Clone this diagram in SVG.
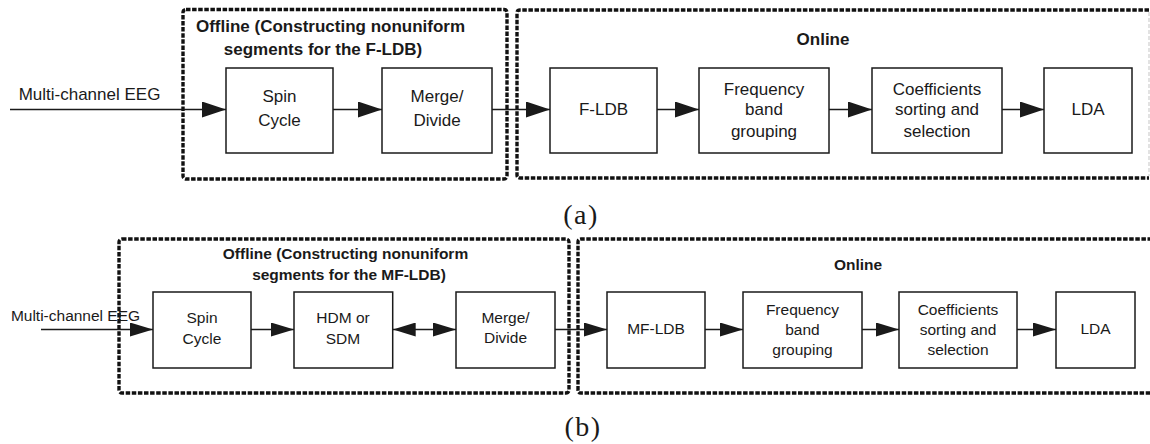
<svg xmlns="http://www.w3.org/2000/svg" width="1150" height="444" viewBox="0 0 1150 444">
  <style>
    .box { fill: #fff; stroke: #1a1a1a; stroke-width: 1.5; }
    .frame { fill: none; stroke: #111; stroke-width: 3.4; stroke-dasharray: 4.5 1.6; stroke-linejoin: round; }
    .frame-faint { fill: none; stroke: #cfcfcf; stroke-width: 1.2; stroke-dasharray: 4 2; }
    .wire { fill: none; stroke: #1a1a1a; stroke-width: 1.5; }
    .t { font-family: "Liberation Sans", Arial, sans-serif; fill: #1a1a1a; text-anchor: middle; }
    .ta { font-size: 17px; }
    .tb { font-size: 15.5px; }
    .bold { font-weight: bold; }
    .cap { font-family: "Liberation Serif", "Times New Roman", serif; font-size: 28px; fill: #1a1a1a; text-anchor: middle; letter-spacing: 1.5px; }
  </style>
  <defs>
    <marker id="headA" markerUnits="userSpaceOnUse" markerWidth="26" markerHeight="18" refX="24" refY="8" orient="auto">
      <path d="M0,0 L24,8 L0,16 Z" fill="#1a1a1a"/>
    </marker>
    <marker id="headB" markerUnits="userSpaceOnUse" markerWidth="25" markerHeight="16" refX="23" refY="7" orient="auto">
      <path d="M0,0 L23,7 L0,14 Z" fill="#1a1a1a"/>
    </marker>
    <marker id="headBstart" markerUnits="userSpaceOnUse" markerWidth="25" markerHeight="16" refX="0" refY="7" orient="auto">
      <path d="M23,0 L0,7 L23,14 Z" fill="#1a1a1a"/>
    </marker>
  </defs>

  <!-- (a) stage frames -->
  <g id="a-offline-frame">
    <rect class="frame" x="183" y="9.5" width="324" height="169.5" rx="3"/>
    <text class="t ta bold" x="330.5" y="32">Offline (Constructing nonuniform</text>
    <text class="t ta bold" x="323" y="55">segments for the F-LDB)</text>
  </g>
  <g id="a-online-frame">
    <path class="frame" d="M1149,10 L520,10 Q517,10 517,13 L517,175 Q517,178 520,178 L1149,178"/>
    <line class="frame-faint" x1="1149" y1="12" x2="1149" y2="176"/>
    <text class="t ta bold" x="823" y="45">Online</text>
  </g>

  <!-- (a) input label -->
  <text id="a-input" class="t ta" x="89.5" y="100">Multi-channel EEG</text>

  <!-- (a) nodes -->
  <g id="a-spin">
    <rect class="box" x="226" y="68" width="107" height="85"/>
    <text class="t ta" x="279.5" y="102">Spin</text>
    <text class="t ta" x="279.5" y="126">Cycle</text>
  </g>
  <g id="a-merge">
    <rect class="box" x="382" y="68" width="110" height="85"/>
    <text class="t ta" x="437" y="102">Merge/</text>
    <text class="t ta" x="437" y="126">Divide</text>
  </g>
  <g id="a-fldb">
    <rect class="box" x="550" y="68" width="107" height="85"/>
    <text class="t ta" x="603.5" y="115">F-LDB</text>
  </g>
  <g id="a-freq">
    <rect class="box" x="699" y="68" width="130" height="85"/>
    <text class="t ta" x="764" y="95">Frequency</text>
    <text class="t ta" x="764" y="115">band</text>
    <text class="t ta" x="764" y="137">grouping</text>
  </g>
  <g id="a-coef">
    <rect class="box" x="872" y="68" width="130" height="85"/>
    <text class="t ta" x="937" y="95">Coefficients</text>
    <text class="t ta" x="937" y="115">sorting and</text>
    <text class="t ta" x="937" y="137">selection</text>
  </g>
  <g id="a-lda">
    <rect class="box" x="1044" y="68" width="88" height="85"/>
    <text class="t ta" x="1088" y="115">LDA</text>
  </g>

  <!-- (a) connectors -->
  <g id="a-connectors">
    <line class="wire" x1="10" y1="109.5" x2="226" y2="109.5" marker-end="url(#headA)"/>
    <line class="wire" x1="333" y1="109.5" x2="382" y2="109.5" marker-end="url(#headA)"/>
    <line class="wire" x1="492" y1="109.5" x2="550" y2="109.5" marker-end="url(#headA)"/>
    <line class="wire" x1="657" y1="109.5" x2="699" y2="109.5" marker-end="url(#headA)"/>
    <line class="wire" x1="829" y1="109.5" x2="872" y2="109.5" marker-end="url(#headA)"/>
    <line class="wire" x1="1002" y1="109.5" x2="1044" y2="109.5" marker-end="url(#headA)"/>
  </g>

  <text id="cap-a" class="cap" x="581" y="224">(a)</text>

  <!-- (b) stage frames -->
  <g id="b-offline-frame">
    <rect class="frame" x="119" y="239" width="450" height="154" rx="3"/>
    <text class="t tb bold" x="345.5" y="259">Offline (Constructing nonuniform</text>
    <text class="t tb bold" x="349" y="280">segments for the MF-LDB)</text>
  </g>
  <g id="b-online-frame">
    <path class="frame" d="M1152,239 L581,239 Q578,239 578,242 L578,390 Q578,393 581,393 L1152,393"/>
    <text class="t tb bold" x="858" y="270">Online</text>
  </g>

  <!-- (b) input label -->
  <text id="b-input" class="t tb" x="75.5" y="321">Multi-channel EEG</text>

  <!-- (b) nodes -->
  <g id="b-spin">
    <rect class="box" x="153" y="292" width="98" height="76"/>
    <text class="t tb" x="202" y="323">Spin</text>
    <text class="t tb" x="202" y="344">Cycle</text>
  </g>
  <g id="b-hdm">
    <rect class="box" x="294" y="292" width="98.7" height="76"/>
    <text class="t tb" x="343" y="323">HDM or</text>
    <text class="t tb" x="343" y="344">SDM</text>
  </g>
  <g id="b-merge">
    <rect class="box" x="456" y="292" width="99" height="76"/>
    <text class="t tb" x="505.5" y="323">Merge/</text>
    <text class="t tb" x="505.5" y="343">Divide</text>
  </g>
  <g id="b-mfldb">
    <rect class="box" x="607" y="292" width="98" height="76"/>
    <text class="t tb" x="656" y="334">MF-LDB</text>
  </g>
  <g id="b-freq">
    <rect class="box" x="743" y="292" width="119" height="76"/>
    <text class="t tb" x="802.5" y="315">Frequency</text>
    <text class="t tb" x="802.5" y="335">band</text>
    <text class="t tb" x="802.5" y="355">grouping</text>
  </g>
  <g id="b-coef">
    <rect class="box" x="899" y="292" width="118" height="76"/>
    <text class="t tb" x="958" y="315">Coefficients</text>
    <text class="t tb" x="958" y="335">sorting and</text>
    <text class="t tb" x="958" y="355">selection</text>
  </g>
  <g id="b-lda">
    <rect class="box" x="1056" y="292" width="79" height="76"/>
    <text class="t tb" x="1095.5" y="334">LDA</text>
  </g>

  <!-- (b) connectors -->
  <g id="b-connectors">
    <line class="wire" x1="41" y1="329.5" x2="153" y2="329.5" marker-end="url(#headB)"/>
    <line class="wire" x1="251" y1="329.5" x2="294" y2="329.5" marker-end="url(#headB)"/>
    <line class="wire" x1="392.7" y1="329.5" x2="456" y2="329.5" marker-start="url(#headBstart)" marker-end="url(#headB)"/>
    <line class="wire" x1="555" y1="329.5" x2="607" y2="329.5" marker-end="url(#headB)"/>
    <line class="wire" x1="705" y1="329.5" x2="743" y2="329.5" marker-end="url(#headB)"/>
    <line class="wire" x1="862" y1="329.5" x2="899" y2="329.5" marker-end="url(#headB)"/>
    <line class="wire" x1="1017" y1="329.5" x2="1056" y2="329.5" marker-end="url(#headB)"/>
  </g>

  <text id="cap-b" class="cap" x="583" y="436">(b)</text>
</svg>
